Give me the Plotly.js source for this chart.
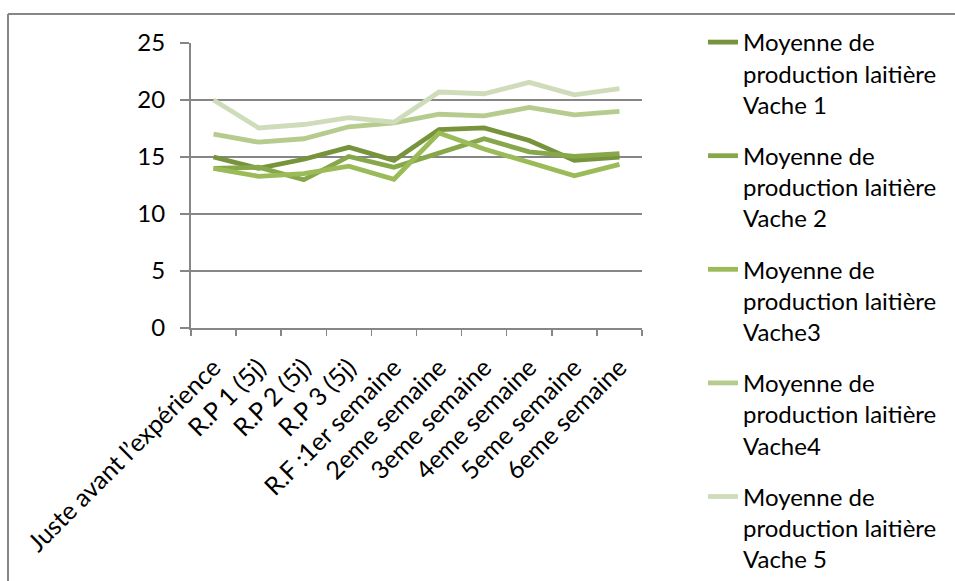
<!DOCTYPE html>
<html>
<head>
<meta charset="utf-8">
<script src="https://cdn.plot.ly/plotly-3.0.1.min.js"></script>
<style>
  html, body { margin: 0; padding: 0; background: #ffffff; }
  #chart { width: 955px; height: 581px; }
</style>
</head>
<body>
<div id="chart"></div>
<script>
// Periods of the experiment (x axis)
const periods = [
  "Juste avant l\u2019exp\u00e9rience",
  "R.P 1 (5j)",
  "R.P 2 (5j)",
  "R.P 3 (5j)",
  "R.F :1er semaine",
  "2eme semaine",
  "3eme semaine",
  "4eme semaine",
  "5eme semaine",
  "6eme semaine"
];

// Average milk production per cow (litres)
const vache1 = [15.0, 14.0, 14.8, 15.85, 14.7, 17.4, 17.55, 16.45, 14.7, 15.0];
const vache2 = [14.0, 14.1, 13.0, 15.05, 14.1, 15.4, 16.6, 15.45, 15.05, 15.3];
const vache3 = [14.0, 13.3, 13.55, 14.2, 13.05, 17.1, 15.7, 14.5, 13.35, 14.35];
const vache4 = [17.0, 16.3, 16.6, 17.65, 18.0, 18.75, 18.6, 19.35, 18.7, 19.0];
const vache5 = [20.0, 17.55, 17.85, 18.45, 18.05, 20.7, 20.55, 21.55, 20.45, 21.0];

const seriesNames = [
  "Moyenne de<br>production laiti\u00e8re<br>Vache 1",
  "Moyenne de<br>production laiti\u00e8re<br>Vache 2",
  "Moyenne de<br>production laiti\u00e8re<br>Vache3",
  "Moyenne de<br>production laiti\u00e8re<br>Vache4",
  "Moyenne de<br>production laiti\u00e8re<br>Vache 5"
];
const seriesValues = [vache1, vache2, vache3, vache4, vache5];
const seriesColors = ["#77933c", "#87a84a", "#9bbb59", "#b6cb8e", "#cfdcb9"];

const FONT = "Lato, 'Open Sans', sans-serif";
const GRID = "#868686";

const traces = seriesValues.map((vals, i) => ({
  type: "scatter",
  mode: "lines",
  x: periods,
  y: vals,
  name: seriesNames[i],
  legendgroup: "g" + i,
  line: { color: seriesColors[i], width: 4.8 }
}));

// plot area in pixels: x 191..642, y 43..328
const L = 191, R = 642, T = 43, B = 328;
const px = (v) => (v - L) / (R - L);
const py = (v) => (B - v) / (B - T);

const layout = {
  width: 955,
  height: 581,
  margin: { l: L, r: 955 - R, t: T, b: 581 - B },
  paper_bgcolor: "#ffffff",
  plot_bgcolor: "#ffffff",
  font: { family: FONT, size: 24, color: "#000000" },
  showlegend: true,
  legend: {
    x: px(703),
    y: py(29),
    xanchor: "left",
    yanchor: "top",
    traceorder: "grouped",
    tracegroupgap: 17,
    valign: "top",
    maxheight: 581,
    font: { family: FONT, size: 24, color: "#000000" },
    bgcolor: "rgba(0,0,0,0)"
  },
  xaxis: {
    type: "category",
    range: [-0.5, 9.5],
    tickangle: -45,
    ticks: "outside",
    tickson: "boundaries",
    ticklen: 6,
    tickwidth: 1.5,
    tickcolor: GRID,
    ticklabelstandoff: 13,
    showline: true,
    linecolor: GRID,
    linewidth: 2,
    showgrid: false,
    zeroline: false,
    tickfont: { family: FONT, size: 25, color: "#000000" },
    fixedrange: true
  },
  yaxis: {
    range: [0, 25],
    tick0: 0,
    dtick: 5,
    ticks: "outside",
    ticklen: 9,
    tickwidth: 1.5,
    tickcolor: GRID,
    ticklabelstandoff: 10,
    showline: true,
    linecolor: GRID,
    linewidth: 2,
    showgrid: true,
    gridcolor: GRID,
    gridwidth: 1.5,
    zeroline: false,
    tickfont: { family: FONT, size: 24, color: "#000000" },
    fixedrange: true
  },
  shapes: [
    // outer chart frame (top and left edges)
    { type: "line", xref: "paper", yref: "paper",
      x0: px(8), x1: px(960), y0: py(14), y1: py(14),
      line: { color: GRID, width: 2 } },
    { type: "line", xref: "paper", yref: "paper",
      x0: px(8), x1: px(8), y0: py(14), y1: py(590),
      line: { color: GRID, width: 2 } }
  ]
};

Plotly.newPlot("chart", traces, layout, { displayModeBar: false, staticPlot: true });
</script>
</body>
</html>
